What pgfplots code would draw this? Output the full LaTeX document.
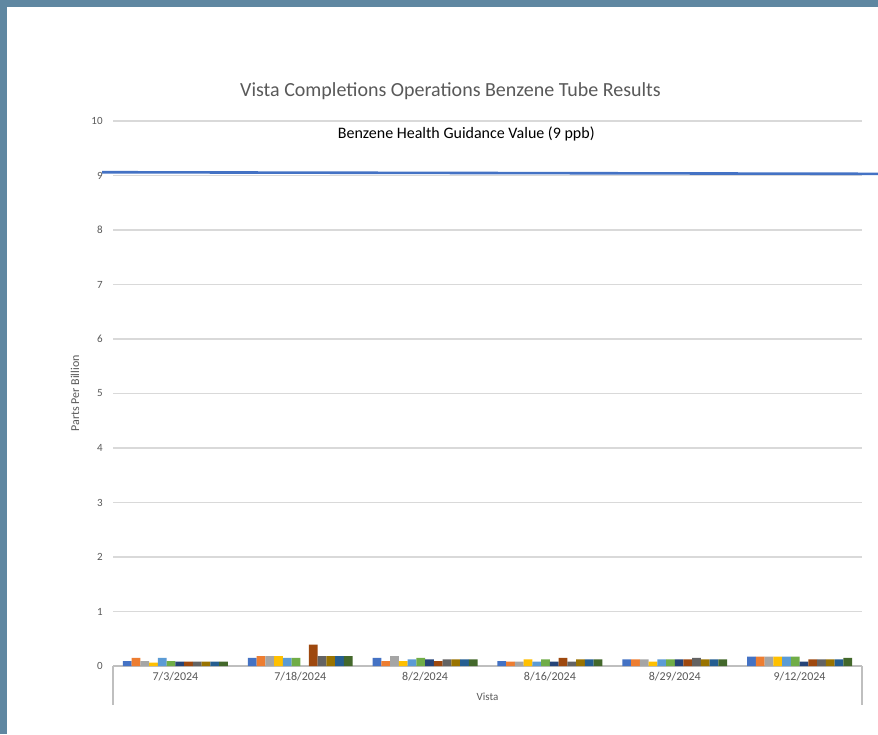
\documentclass[border=0pt]{standalone}
\usepackage{pgfplots}
\usepackage{pgfplotstable}
\pgfplotsset{compat=1.18}
\usepackage{fontspec}
\setmainfont{Carlito}

\newlength\pu
\setlength\pu{0.5pt}

\definecolor{frame}{HTML}{5F87A1}
\definecolor{txt}{HTML}{595959}
\definecolor{gridc}{HTML}{D9D9D9}
\definecolor{axc}{HTML}{BFBFBF}
\definecolor{c1}{HTML}{4472C4}
\definecolor{c2}{HTML}{ED7D31}
\definecolor{c3}{HTML}{A5A5A5}
\definecolor{c4}{HTML}{FFC000}
\definecolor{c5}{HTML}{5B9BD5}
\definecolor{c6}{HTML}{70AD47}
\definecolor{c7}{HTML}{264478}
\definecolor{c8}{HTML}{9E480E}
\definecolor{c9}{HTML}{636363}
\definecolor{c10}{HTML}{997300}
\definecolor{c11}{HTML}{255E91}
\definecolor{c12}{HTML}{43682B}

% one row per sampling date, one column per tube
\pgfplotstableread{
x s1 s2 s3 s4 s5 s6 s7 s8 s9 s10 s11 s12
0 0.09 0.15 0.09 0.06 0.15 0.09 0.08 0.08 0.08 0.08 0.08 0.08
1 0.15 0.18 0.18 0.18 0.15 0.15 nan  0.39 0.18 0.18 0.18 0.18
2 0.15 0.09 0.18 0.09 0.12 0.15 0.12 0.09 0.12 0.12 0.12 0.12
3 0.09 0.08 0.08 0.12 0.08 0.12 0.08 0.15 0.08 0.12 0.12 0.12
4 0.12 0.12 0.12 0.08 0.12 0.12 0.12 0.12 0.15 0.12 0.12 0.12
5 0.17 0.17 0.17 0.17 0.17 0.17 0.08 0.12 0.12 0.12 0.12 0.15
}\tubes

\begin{document}
\begin{tikzpicture}
\useasboundingbox (0,0) rectangle (878\pu,734\pu);
\clip (0,0) rectangle (878\pu,734\pu);
\fill[frame] (0,0) rectangle (878\pu,734\pu);
\fill[white] (7\pu,0) rectangle (878\pu,727\pu);
\begin{axis}[
    at={(113\pu,68\pu)}, anchor=south west,
    scale only axis, width=749\pu, height=545\pu,
    xmin=-0.5, xmax=5.5, ymin=0, ymax=10,
    xtick={0,...,5},
    xticklabels={7/3/2024,7/18/2024,8/2/2024,8/16/2024,8/29/2024,9/12/2024},
    ytick={0,...,10},
    axis x line*=bottom, axis y line*=left,
    x axis line style={draw=axc, line width=0.6pt, -},
    y axis line style={draw=none},
    major tick length=0pt,
    ymajorgrids=true,
    grid style={draw=gridc, line width=0.6pt},
    /pgf/number format/assume math mode=true,
    ticklabel style={text=txt},
    yticklabel style={font=\fontsize{5.5}{6}\selectfont, inner sep=0pt, anchor=east, xshift=-10\pu},
    xticklabel style={font=\fontsize{6}{7}\selectfont, inner sep=0pt, anchor=north, yshift=-6\pu},
    title={Vista Completions Operations Benzene Tube Results},
    title style={font=\fontsize{10}{12}\selectfont, text=txt, at={(axis description cs:0.5,1)},
                 anchor=center, xshift=-37\pu, yshift=18\pu},
    xlabel={Vista},
    xlabel style={font=\fontsize{5.5}{6}\selectfont, text=txt, at={(axis description cs:0.5,0)},
                  anchor=center, yshift=-31\pu},
    ylabel={Parts Per Billion},
    ylabel style={font=\fontsize{6}{7}\selectfont, text=txt, at={(axis description cs:-0.0507,0.5)},
                  anchor=center},
    clip=false,
]
\addplot[ybar, bar width=0.07, bar shift=-0.385, fill=c1,  draw=none] table[x=x,y=s1]{\tubes};
\addplot[ybar, bar width=0.07, bar shift=-0.315, fill=c2,  draw=none] table[x=x,y=s2]{\tubes};
\addplot[ybar, bar width=0.07, bar shift=-0.245, fill=c3,  draw=none] table[x=x,y=s3]{\tubes};
\addplot[ybar, bar width=0.07, bar shift=-0.175, fill=c4,  draw=none] table[x=x,y=s4]{\tubes};
\addplot[ybar, bar width=0.07, bar shift=-0.105, fill=c5,  draw=none] table[x=x,y=s5]{\tubes};
\addplot[ybar, bar width=0.07, bar shift=-0.035, fill=c6,  draw=none] table[x=x,y=s6]{\tubes};
\addplot[ybar, bar width=0.07, bar shift=0.035,  fill=c7,  draw=none] table[x=x,y=s7]{\tubes};
\addplot[ybar, bar width=0.07, bar shift=0.105,  fill=c8,  draw=none] table[x=x,y=s8]{\tubes};
\addplot[ybar, bar width=0.07, bar shift=0.175,  fill=c9,  draw=none] table[x=x,y=s9]{\tubes};
\addplot[ybar, bar width=0.07, bar shift=0.245,  fill=c10, draw=none] table[x=x,y=s10]{\tubes};
\addplot[ybar, bar width=0.07, bar shift=0.315,  fill=c11, draw=none] table[x=x,y=s11]{\tubes};
\addplot[ybar, bar width=0.07, bar shift=0.385,  fill=c12, draw=none] table[x=x,y=s12]{\tubes};
% guidance value line
\addplot[sharp plot, draw=c1, line width=1.3pt] coordinates {(-0.588,9.06) (5.7,9.03)};
\node[font=\fontsize{8}{9}\selectfont, text=black] at (axis cs:2.33,9.76) {Benzene Health Guidance Value (9 ppb)};
\draw[axc, line width=0.6pt] (rel axis cs:0,0) -- ([yshift=-39\pu]rel axis cs:0,0);
\draw[axc, line width=0.6pt] (rel axis cs:1,0) -- ([yshift=-39\pu]rel axis cs:1,0);
\end{axis}
\end{tikzpicture}
\end{document}
